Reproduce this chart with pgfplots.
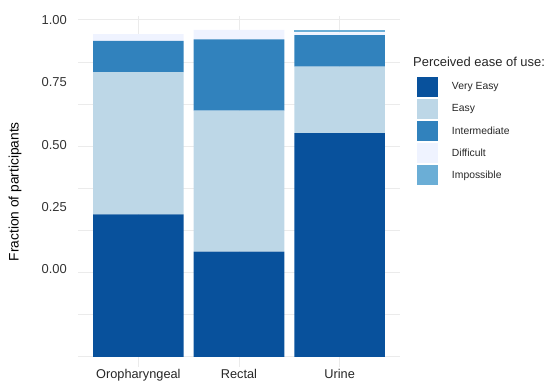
\documentclass[border=0pt]{standalone}
\usepackage{pgfplots}
\pgfplotsset{compat=1.18}
\usepackage{fontspec}
\setmainfont{Liberation Sans}
\definecolor{cVE}{HTML}{08519C}
\definecolor{cE}{HTML}{BDD7E7}
\definecolor{cI}{HTML}{3182BD}
\definecolor{cD}{HTML}{EFF3FF}
\definecolor{cIm}{HTML}{6BAED6}
\definecolor{gridc}{HTML}{EBEBEB}
\begin{document}
\begin{tikzpicture}
\path[use as bounding box] (-78bp,-18bp) rectangle (472bp,367bp);
\begin{axis}[
  scale only axis, width=322bp, height=350.5bp,
  xmin=-0.6, xmax=2.6, ymin=-0.03, ymax=1.01,
  ybar stacked, bar width=0.9,
  axis line style={draw=none}, tick style={draw=none},
  xtick={0,1,2}, xticklabels={Oropharyngeal,Rectal,Urine},
  xmajorgrids, major grid style={gridc, line width=0.9bp},
  ytick={0.26,0.445,0.63,0.815,1.0},
  yticklabels={0.00,0.25,0.50,0.75,1.00},
  extra y ticks={0,0.125,0.25,0.375,0.5,0.625,0.75,0.875,1.0},
  extra y tick labels={},
  extra y tick style={grid=major, major grid style={gridc, line width=0.9bp}},
  ymajorgrids=false,
  yticklabel style={font=\fontsize{13}{15}\selectfont, text=black!80, anchor=east, inner sep=0pt, xshift=-11bp},
  xticklabel style={font=\fontsize{12.8}{15}\selectfont, text=black!85, anchor=north, inner sep=0pt, yshift=-2bp},
  ylabel={Fraction of participants},
  ylabel style={at={(axis description cs:-0.1957,0.5)}, anchor=center, rotate=0, font=\fontsize{13.8}{16}\selectfont},
  legend style={draw=none, fill=none, at={(axis description cs:1.0528,0.8274)}, anchor=north west, inner sep=0pt, outer sep=0pt, row sep=2bp, column sep=14bp, font=\fontsize{10.4}{12}\selectfont, text=black!85, nodes={inner sep=0pt, anchor=west}},
  legend cell align=left,
  legend image code/.code={\fill[#1] (0bp,-10bp) rectangle (21bp,10bp);},
  clip=false,
]
\addplot[fill=cVE, draw=none] coordinates {(0,0.423) (1,0.3125) (2,0.664)};
\addlegendentry{Very Easy}
\addplot[fill=cE, draw=none] coordinates {(0,0.422) (1,0.4185) (2,0.197)};
\addlegendentry{Easy}
\addplot[fill=cI, draw=none] coordinates {(0,0.093) (1,0.211) (2,0.094)};
\addlegendentry{Intermediate}
\addplot[fill=cD, draw=none] coordinates {(0,0.020) (1,0.0285) (2,0.008)};
\addlegendentry{Difficult}
\addplot[fill=cIm, draw=none] coordinates {(0,0) (1,0) (2,0.008)};
\addlegendentry{Impossible}
\end{axis}
\node[anchor=west, inner sep=0pt, font=\fontsize{13}{15}\selectfont, text=black!85] at (335bp,305bp) {Perceived ease of use:};
\end{tikzpicture}
\end{document}
